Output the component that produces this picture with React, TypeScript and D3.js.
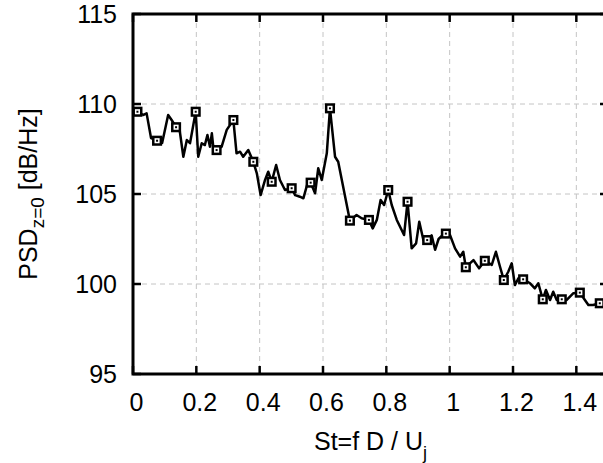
import React from "react";
import * as d3 from "d3";

// spectrum
const st = [
  0.014, 0.033, 0.043, 0.057, 0.076, 0.092, 0.111, 0.122, 0.136, 0.148,
  0.159, 0.17, 0.18, 0.198, 0.206, 0.217, 0.227, 0.235, 0.243, 0.249,
  0.254, 0.264, 0.28, 0.296, 0.317, 0.327, 0.338, 0.348, 0.364, 0.38,
  0.391, 0.403, 0.417, 0.427, 0.438, 0.452, 0.464, 0.48, 0.501, 0.512,
  0.527, 0.538, 0.554, 0.561, 0.575, 0.585, 0.596, 0.612, 0.622, 0.638,
  0.648, 0.685, 0.706, 0.722, 0.745, 0.757, 0.77, 0.782, 0.793, 0.806,
  0.817, 0.833, 0.856, 0.867, 0.88, 0.894, 0.904, 0.917, 0.929, 0.943,
  0.954, 0.965, 0.98, 0.988, 1.001, 1.017, 1.033, 1.043, 1.051, 1.064,
  1.075, 1.093, 1.111, 1.133, 1.146, 1.159, 1.171, 1.185, 1.196, 1.206,
  1.217, 1.232, 1.254, 1.269, 1.28, 1.294, 1.304, 1.317, 1.327, 1.338,
  1.354, 1.369, 1.39, 1.411, 1.427, 1.438, 1.453, 1.474, 1.484, 1.5,
];
const psd = [
  109.57, 109.39, 109.48, 108.11, 107.96, 107.83, 109.39, 109.11, 108.71, 108.46,
  107.07, 108.0, 107.82, 109.57, 107.07, 107.82, 107.72, 108.28, 107.63, 108.37,
  107.54, 107.44, 107.63, 108.56, 109.11, 107.26, 107.35, 107.07, 107.44, 106.79,
  106.15, 104.94, 105.78, 106.24, 105.68, 106.61, 105.78, 105.22, 105.32, 104.94,
  104.85, 104.76, 105.78, 105.63, 105.04, 106.43, 105.78, 107.26, 109.76, 107.07,
  106.79, 103.52, 103.83, 103.65, 103.56, 103.09, 103.56, 104.67, 104.39, 105.22,
  104.39, 103.56, 102.72, 104.57, 101.98, 102.26, 103.46, 102.44, 102.44, 102.7,
  101.9, 102.5, 102.75, 102.8, 102.72, 101.98, 101.52, 101.79, 100.93, 101.15,
  101.33, 100.87, 101.29, 101.06, 101.79, 100.96, 100.22, 100.68, 101.15, 99.94,
  100.32, 100.26, 100.04, 99.76, 100.04, 99.15, 99.67, 99.11, 99.57, 99.11,
  99.15, 99.11, 99.48, 99.52, 99.11, 98.83, 98.83, 98.93, 99.11, 98.8,
];

// points that carry a square marker
const markerSt = [
  0.014, 0.076, 0.136, 0.198, 0.264, 0.317, 0.38, 0.438, 0.501, 0.561, 0.622,
  0.685, 0.745, 0.806, 0.867, 0.929, 0.988, 1.051, 1.111, 1.171, 1.232, 1.294,
  1.354, 1.411, 1.474,
];
const markerPsd = [
  109.57, 107.96, 108.71, 109.57, 107.44, 109.11, 106.79, 105.68, 105.32,
  105.63, 109.76, 103.52, 103.56, 105.22, 104.57, 102.44, 102.8, 100.93,
  101.29, 100.22, 100.26, 99.15, 99.15, 99.52, 98.93,
];

const xTicks = [0, 0.2, 0.4, 0.6, 0.8, 1, 1.2, 1.4];
const yTicks = [95, 100, 105, 110, 115];

const W = 603;
const H = 463;
const m = { left: 133, top: 14, right: 608, bottom: 374 };
const font = "'Liberation Sans', Arial, Helvetica, sans-serif";

const App = () => {
  const x = d3.scaleLinear().domain([0, 1.5]).range([m.left, m.right]);
  const y = d3.scaleLinear().domain([95, 115]).range([m.bottom, m.top]);

  const pts = st.map((s, i) => [s, psd[i]] as [number, number]);
  const line = d3
    .line<[number, number]>()
    .x((d) => x(d[0]))
    .y((d) => y(d[1]));

  const tickLen = 8;

  return (
    <div style={{ position: "absolute", left: 0, top: 0 }}>
      <svg width={W} height={H} style={{ display: "block", background: "#fff" }}>
        {/* grid */}
        <g stroke="#c4c4c4" strokeWidth={1} strokeDasharray="5,4">
          {xTicks
            .filter((t) => t > 0)
            .map((t) => (
              <line key={"gx" + t} x1={x(t)} x2={x(t)} y1={m.top} y2={m.bottom} />
            ))}
          {yTicks
            .filter((t) => t > 95 && t < 115)
            .map((t) => (
              <line key={"gy" + t} x1={m.left} x2={m.right} y1={y(t)} y2={y(t)} />
            ))}
        </g>

        {/* ticks, mirrored on all sides */}
        <g stroke="#000" strokeWidth={2.5}>
          {xTicks.map((t) => (
            <g key={"tx" + t}>
              <line x1={x(t)} x2={x(t)} y1={m.bottom} y2={m.bottom - tickLen} />
              <line x1={x(t)} x2={x(t)} y1={m.top} y2={m.top + tickLen} />
            </g>
          ))}
          {yTicks.map((t) => (
            <g key={"ty" + t}>
              <line x1={m.left} x2={m.left + tickLen} y1={y(t)} y2={y(t)} />
              <line x1={m.right} x2={m.right - tickLen} y1={y(t)} y2={y(t)} />
            </g>
          ))}
        </g>

        {/* data line */}
        <path
          d={line(pts) || ""}
          fill="none"
          stroke="#000"
          strokeWidth={2.5}
          strokeLinejoin="round"
        />

        {/* markers */}
        {markerSt.map((s, i) => (
          <g key={"mk" + i}>
            <rect
              x={x(s) - 3.8}
              y={y(markerPsd[i]) - 3.8}
              width={7.6}
              height={7.6}
              fill="#fff"
              stroke="#000"
              strokeWidth={2.5}
            />
            <rect x={x(s) - 1} y={y(markerPsd[i]) - 1} width={2} height={2} fill="#000" />
          </g>
        ))}

        {/* frame */}
        <rect
          x={m.left}
          y={m.top}
          width={m.right - m.left}
          height={m.bottom - m.top}
          fill="none"
          stroke="#000"
          strokeWidth={3}
        />

        {/* tick labels */}
        <g fontFamily={font} fontSize={25} fill="#000">
          {xTicks.map((t) => (
            <text key={"lx" + t} x={x(t) + 3.5} y={410.5} textAnchor="middle">
              {String(+t.toFixed(1))}
            </text>
          ))}
          {yTicks.map((t) => (
            <text key={"ly" + t} x={117} y={y(t) + 9} textAnchor="end">
              {t}
            </text>
          ))}
        </g>

        {/* axis titles */}
        <text x={(m.left + m.right) / 2} y={450} textAnchor="middle" fontFamily={font} fontSize={25}>
          St=f D / U
          <tspan fontSize={18} dy={9}>
            j
          </tspan>
        </text>
        <text
          transform={`translate(37,${(m.top + m.bottom) / 2}) rotate(-90)`}
          textAnchor="middle"
          fontFamily={font}
          fontSize={25}
        >
          PSD
          <tspan fontSize={19} dy={7}>
            z=0
          </tspan>
          <tspan dy={-7}> [dB/Hz]</tspan>
        </text>
      </svg>
    </div>
  );
};

export default App;
